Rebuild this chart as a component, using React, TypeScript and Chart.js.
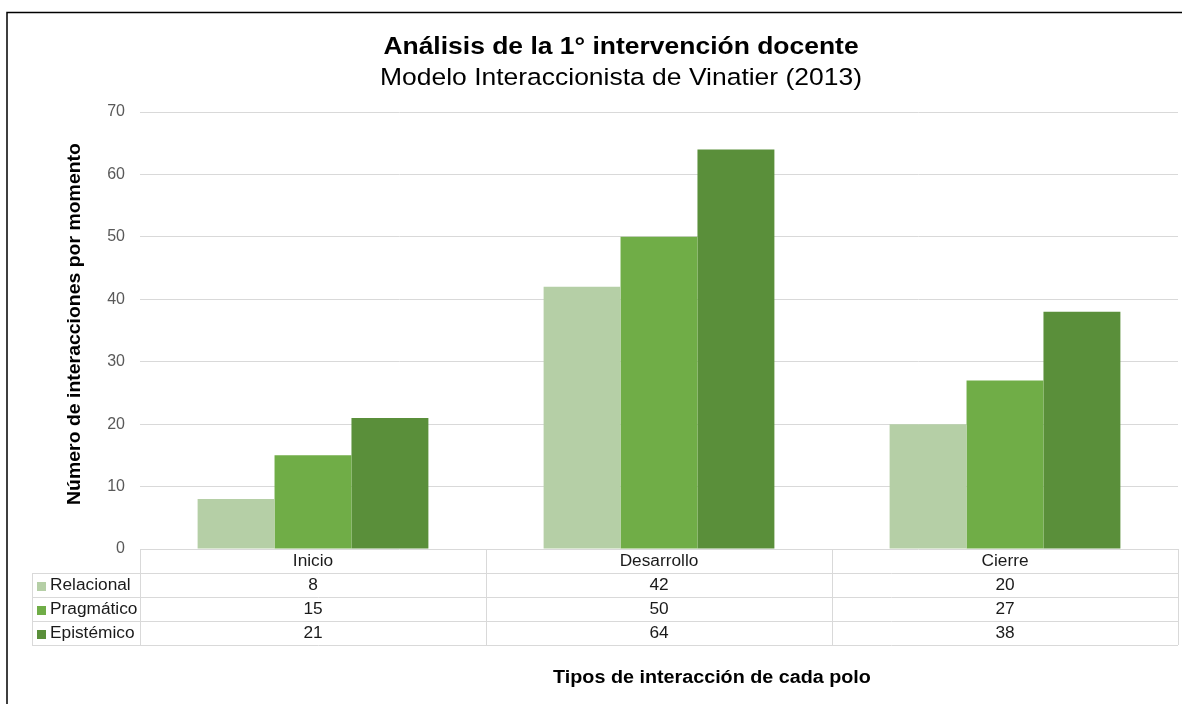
import React, { useEffect, useRef } from "react";
import { Chart, registerables } from "chart.js";

Chart.register(...registerables);

const categories = ["Inicio", "Desarrollo", "Cierre"];
const seriesNames = ["Relacional", "Pragmático", "Epistémico"];
const relacional = [8, 42, 20];
const pragmatico = [15, 50, 27];
const epistemico = [21, 64, 38];
const seriesColors = ["#b5cfa6", "#70ad47", "#5a8f3a"];
const yTicks = [0, 10, 20, 30, 40, 50, 60, 70];

const titleText = "Análisis de la 1° intervención docente";
const subtitleText = "Modelo Interaccionista de Vinatier (2013)";
const yTitle = "Número de interacciones por momento";
const xTitle = "Tipos de interacción de cada polo";

const FONT = "'Liberation Sans', Arial, sans-serif";
const SX = 1.08;

function drawText(ctx: any, text: string, x: number, y: number, align: string, sx: number) {
  ctx.save();
  ctx.translate(x, y);
  ctx.scale(sx, 1);
  ctx.textAlign = align;
  ctx.fillText(text, 0, 0);
  ctx.restore();
}

const decorPlugin = {
  id: "decor",
  beforeDraw(chart: any) {
    const ctx = chart.ctx;
    ctx.save();
    ctx.fillStyle = "#ffffff";
    ctx.fillRect(0, 0, chart.width, chart.height);
    ctx.restore();
  },
  afterDraw(chart: any) {
    const ctx = chart.ctx;
    const x = chart.scales.x;
    const area = chart.chartArea;
    const n = categories.length;
    const step = (area.right - area.left) / n;
    const rowH = 24;
    const headTop = area.bottom;
    const legendLeft = 32;
    ctx.save();

    // outer border
    ctx.strokeStyle = "#000000";
    ctx.lineWidth = 1.5;
    ctx.beginPath();
    ctx.moveTo(7, chart.height);
    ctx.lineTo(7, 12.5);
    ctx.lineTo(chart.width, 12.5);
    ctx.stroke();

    // titles
    ctx.fillStyle = "#000000";
    ctx.textBaseline = "middle";
    ctx.font = `bold 24.5px ${FONT}`;
    drawText(ctx, titleText, 621, 47, "center", SX);
    ctx.font = `24.5px ${FONT}`;
    drawText(ctx, subtitleText, 621, 78, "center", SX);

    // axis titles
    ctx.font = `bold 18.3px ${FONT}`;
    drawText(ctx, xTitle, 712, 678, "center", SX);
    ctx.font = `bold 18px ${FONT}`;
    ctx.save();
    ctx.translate(75, 324);
    ctx.rotate(-Math.PI / 2);
    drawText(ctx, yTitle, 0, 0, "center", SX);
    ctx.restore();

    // data table lines
    ctx.strokeStyle = "#d9d9d9";
    ctx.lineWidth = 1;
    ctx.beginPath();
    ctx.moveTo(area.left, headTop + 0.5);
    ctx.lineTo(area.right, headTop + 0.5);
    for (let r = 1; r <= seriesNames.length + 1; r++) {
      const yy = Math.round(headTop + r * rowH) + 0.5;
      ctx.moveTo(legendLeft, yy);
      ctx.lineTo(area.right, yy);
    }
    for (let c = 0; c <= n; c++) {
      const xx = Math.round(area.left + c * step) + 0.5;
      ctx.moveTo(xx, headTop);
      ctx.lineTo(xx, headTop + (seriesNames.length + 1) * rowH);
    }
    ctx.moveTo(legendLeft + 0.5, headTop + rowH);
    ctx.lineTo(legendLeft + 0.5, headTop + (seriesNames.length + 1) * rowH);
    ctx.stroke();

    // table text
    ctx.font = `16px ${FONT}`;
    ctx.fillStyle = "#1a1a1a";
    categories.forEach((cat, i) => {
      const cx = x.getPixelForValue(i);
      drawText(ctx, cat, cx, headTop + rowH / 2 + 1, "center", SX);
    });
    const datasets = chart.data.datasets;
    datasets.forEach((ds: any, r: number) => {
      const cy = headTop + (r + 1) * rowH + rowH / 2 + 1;
      ds.data.forEach((v: number, i: number) => {
        ctx.fillStyle = "#1a1a1a";
        drawText(ctx, String(v), x.getPixelForValue(i), cy, "center", SX);
      });
      ctx.fillStyle = ds.backgroundColor;
      ctx.fillRect(37, cy - 4, 9, 9);
      ctx.fillStyle = "#1a1a1a";
      drawText(ctx, ds.label, 50, cy, "left", SX);
    });
    ctx.restore();
  },
};

export default function App() {
  const ref = useRef<HTMLCanvasElement | null>(null);
  useEffect(() => {
    if (!ref.current) return;
    const chart = new Chart(ref.current, {
      type: "bar",
      data: {
        labels: categories,
        datasets: [relacional, pragmatico, epistemico].map((d, i) => ({
          label: seriesNames[i],
          data: d,
          backgroundColor: seriesColors[i],
          borderWidth: 0,
          categoryPercentage: 0.667,
          barPercentage: 1,
        })),
      },
      options: {
        responsive: false,
        animation: false,
        devicePixelRatio: 1,
        layout: { padding: { top: 112, bottom: 155, left: 0, right: 4 } },
        plugins: {
          legend: { display: false },
          tooltip: { enabled: false },
          title: { display: false },
        },
        scales: {
          x: {
            display: false,
          },
          y: {
            min: 0,
            max: 70,
            afterBuildTicks(scale: any) {
              scale.ticks = yTicks.map((v) => ({ value: v }));
            },
            afterFit(scale: any) {
              scale.width = 140;
            },
            ticks: {
              stepSize: 10,
              padding: 15,
              color: "#595959",
              font: { family: FONT, size: 16 },
            },
            grid: {
              color: (c: any) => (c.tick && c.tick.value === 0 ? "rgba(0,0,0,0)" : "#d9d9d9"),
              drawTicks: false,
              lineWidth: 1,
            },
            border: { display: false },
          },
        },
      },
      plugins: [decorPlugin],
    });
    return () => chart.destroy();
  }, []);
  return (
    <div style={{ position: "absolute", left: 0, top: 0, width: 1182, height: 704 }}>
      <canvas ref={ref} width={1182} height={704} style={{ display: "block" }} />
    </div>
  );
}
